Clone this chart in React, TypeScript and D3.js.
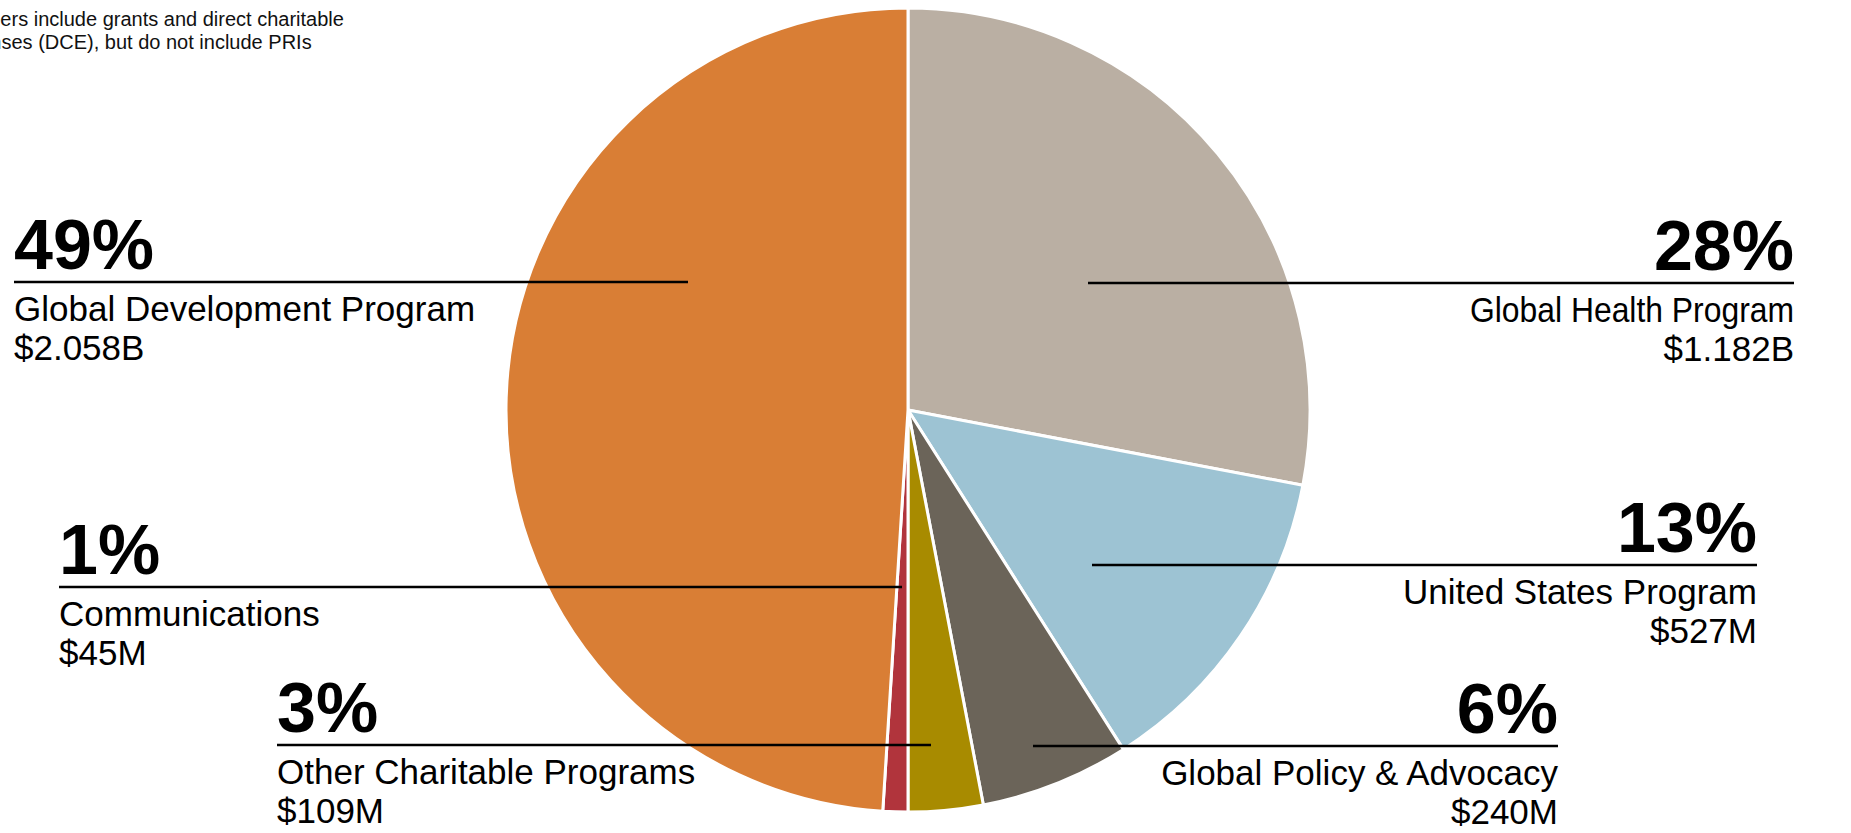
import React from "react";
import * as d3 from "d3";

// ---- data ----
const categories = [
  "Global Health Program",
  "United States Program",
  "Global Policy & Advocacy",
  "Other Charitable Programs",
  "Communications",
  "Global Development Program",
];
const percentages = [28, 13, 6, 3, 1, 49]; // share of total, %
const valueLabels = ["$1.182B", "$527M", "$240M", "$109M", "$45M", "$2.058B"];
const colors = ["#BAAFA3", "#9DC3D3", "#6B6459", "#A88B00", "#B1343C", "#D97E35"];
const footnoteLines = [
  "Numbers include grants and direct charitable",
  "expenses (DCE), but do not include PRIs",
];

// ---- layout (label placement) ----
const W = 1851;
const H = 833;
const CX = 908;
const CY = 410;
const R = 402;

type LabelPos = {
  side: "left" | "right";
  x: number;
  lineY: number;
  innerX: number;
  nameWidth?: number;
};
const labelLayout: LabelPos[] = [
  { side: "right", x: 1794, lineY: 283, innerX: 1088, nameWidth: 324 },
  { side: "right", x: 1757, lineY: 565, innerX: 1092 },
  { side: "right", x: 1558, lineY: 746, innerX: 1033 },
  { side: "left", x: 277, lineY: 745, innerX: 931 },
  { side: "left", x: 59, lineY: 587, innerX: 902 },
  { side: "left", x: 14, lineY: 282, innerX: 688 },
];

const FONT = "'Liberation Sans', Arial, Helvetica, sans-serif";

export default function App() {
  const pie = d3
    .pie<number>()
    .sort(null)
    .value((d) => d)
    .startAngle(0)
    .endAngle(2 * Math.PI);
  const arcs = pie(percentages);
  const arc = d3.arc<d3.PieArcDatum<number>>().innerRadius(0).outerRadius(R);

  return (
    <svg
      width={W}
      height={H}
      style={{ position: "absolute", left: 0, top: 0, background: "#fff" }}
      fontFamily={FONT}
    >
      <g transform={`translate(${CX},${CY})`}>
        {arcs.map((a, i) => (
          <path
            key={categories[i]}
            d={arc(a) || ""}
            fill={colors[i]}
            stroke="#ffffff"
            strokeWidth={3}
            strokeLinejoin="round"
          />
        ))}
      </g>

      {footnoteLines.map((t, i) => (
        <text key={i} x={-53} y={26 + i * 23} fontSize={20} fill="#111">
          {t}
        </text>
      ))}

      {categories.map((c, i) => {
        const L = labelLayout[i];
        const anchor = L.side === "right" ? "end" : "start";
        const x1 = L.side === "right" ? L.innerX : L.x;
        const x2 = L.side === "right" ? L.x : L.innerX;
        const pct = percentages[i] + "%";
        const nameProps = L.nameWidth
          ? { textLength: L.nameWidth, lengthAdjust: "spacingAndGlyphs" as const }
          : {};
        return (
          <g key={c}>
            <line x1={x1} x2={x2} y1={L.lineY} y2={L.lineY} stroke="#000" strokeWidth={2.5} />
            <text
              x={L.x}
              y={L.lineY - 13}
              textAnchor={anchor}
              fontSize={70}
              fontWeight="bold"
              fill="#000"
            >
              {pct}
            </text>
            <text
              x={L.x}
              y={L.lineY + 39}
              textAnchor={anchor}
              fontSize={35}
              fill="#000"
              {...nameProps}
            >
              {c}
            </text>
            <text x={L.x} y={L.lineY + 78} textAnchor={anchor} fontSize={35} fill="#000">
              {valueLabels[i]}
            </text>
          </g>
        );
      })}
    </svg>
  );
}
